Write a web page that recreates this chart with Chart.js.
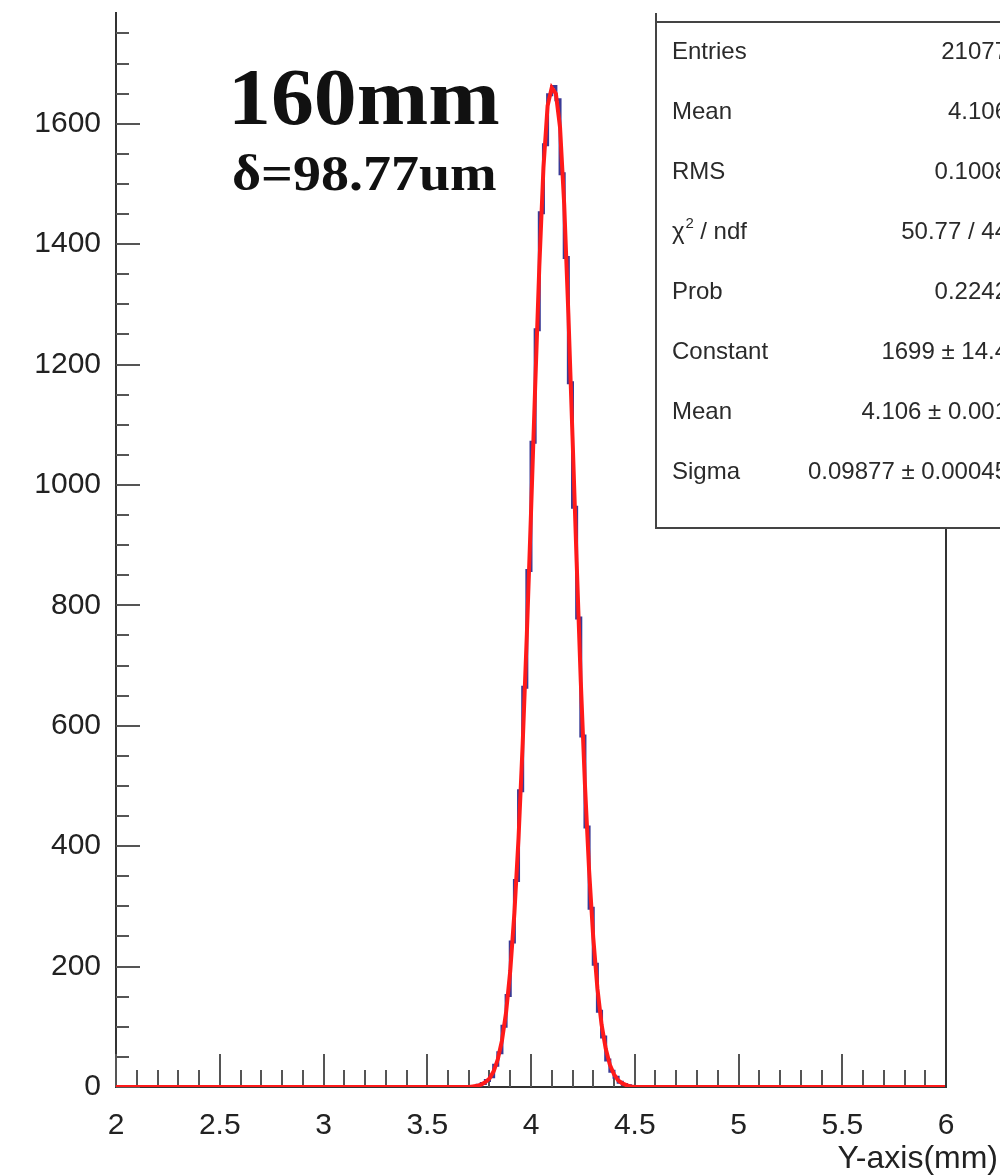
<!DOCTYPE html>
<html><head><meta charset="utf-8">
<script src="https://cdn.jsdelivr.net/npm/chart.js@4/dist/chart.umd.min.js"></script>
<style>html,body{margin:0;padding:0;background:#fff;}canvas{display:block;}</style>
</head><body>
<canvas id="c" width="1000" height="1175"></canvas>
<script>
// ---------- data ----------
const xRange = [2, 6];
const yRange = [0, 1784];
const xTickLabels = [2, 2.5, 3, 3.5, 4, 4.5, 5, 5.5, 6];
const yTickLabels = [0, 200, 400, 600, 800, 1000, 1200, 1400, 1600];
const binWidth = 0.02;
const binCenters = [3.75, 3.77, 3.79, 3.81, 3.83, 3.85, 3.87, 3.89, 3.91, 3.93, 3.95, 3.97, 3.99,
  4.01, 4.03, 4.05, 4.07, 4.09, 4.11, 4.13, 4.15, 4.17, 4.19, 4.21, 4.23, 4.25, 4.27, 4.29,
  4.31, 4.33, 4.35, 4.37, 4.39, 4.41, 4.43, 4.45, 4.47, 4.49];
const binCounts = [3, 6, 11, 17, 36, 57, 101, 152, 241, 343, 492, 664, 858,
  1071, 1258, 1452, 1565, 1648, 1662, 1640, 1517, 1378, 1170, 963, 779, 583, 432, 297,
  204, 126, 83, 45, 26, 16, 8, 4, 2, 1];
const fitX = [2.0, 3.70, 3.72, 3.74, 3.76, 3.78, 3.80, 3.82, 3.84, 3.86, 3.88, 3.90, 3.92, 3.94, 3.96,
  3.98, 4.00, 4.02, 4.04, 4.06, 4.08, 4.10, 4.12, 4.14, 4.16, 4.18, 4.20, 4.22, 4.24, 4.26,
  4.28, 4.30, 4.32, 4.34, 4.36, 4.38, 4.40, 4.42, 4.44, 4.46, 4.48, 4.50, 6.0];
const fitY = [0, 0, 1, 2, 4, 8, 14, 26, 46, 77, 124, 193, 289, 414, 571,
  752, 953, 1162, 1362, 1527, 1630, 1660, 1650, 1594, 1466, 1285, 1081, 872, 673, 502,
  360, 248, 164, 104, 64, 37, 21, 11, 6, 3, 1, 0, 0];
const statNames = ['Entries', 'Mean', 'RMS', 'χ2 / ndf', 'Prob', 'Constant', 'Mean', 'Sigma'];
const statValues = ['21077', '4.106', '0.1008', '50.77 / 44', '0.2242', '1699 ± 14.4', '4.106 ± 0.001', '0.09877 ± 0.00045'];
const titleMain = '160mm';
const titleSub = 'δ=98.77um';
const xAxisTitle = 'Y-axis(mm)';

// ---------- build datasets ----------
const histPts = [{x: xRange[0], y: 0}, {x: +(binCenters[0] - binWidth / 2).toFixed(3), y: 0}];
binCenters.forEach((c, i) => histPts.push({x: +(c - binWidth / 2).toFixed(3), y: binCounts[i]}));
histPts.push({x: +(binCenters[binCenters.length - 1] + binWidth / 2).toFixed(3), y: 0});
histPts.push({x: xRange[1], y: 0});
const fitPts = fitX.map((x, i) => ({x, y: fitY[i]}));

const SANS = '"Liberation Sans", Arial, Helvetica, sans-serif';
const SERIF = '"Liberation Serif", "DejaVu Serif", serif';
const AXC = '#333';

const decor = {
  id: 'decor',
  beforeDatasetsDraw(chart) {
    const ctx = chart.ctx, xs = chart.scales.x, ys = chart.scales.y, a = chart.chartArea;
    ctx.save();
    ctx.strokeStyle = '#555';
    ctx.lineWidth = 2;
    ctx.beginPath();
    for (let i = 0; i <= 40; i++) {
      const v = xRange[0] + i * 0.1;
      const px = Math.round(xs.getPixelForValue(v));
      const len = (i % 5 === 0) ? 33 : 17;
      ctx.moveTo(px, a.bottom); ctx.lineTo(px, a.bottom - len);
    }
    for (let i = 0; i * 50 <= yRange[1]; i++) {
      const py = Math.round(ys.getPixelForValue(i * 50));
      const len = (i % 4 === 0) ? 24 : 13;
      ctx.moveTo(a.left, py); ctx.lineTo(a.left + len, py);
    }
    ctx.stroke();
    ctx.restore();
  },
  afterDraw(chart) {
    const ctx = chart.ctx, a = chart.chartArea;
    ctx.save();
    // right frame line
    const boxBottom = 528;
    ctx.strokeStyle = AXC; ctx.lineWidth = 2;
    ctx.beginPath(); ctx.moveTo(a.right, boxBottom); ctx.lineTo(a.right, a.bottom); ctx.stroke();
    // stats box
    const bx = 656, by = 13, bw = 400, bh = boxBottom - by;
    ctx.fillStyle = '#fff';
    ctx.fillRect(bx, by, bw, bh);
    ctx.strokeStyle = '#444'; ctx.lineWidth = 2;
    ctx.beginPath();
    ctx.moveTo(bx, by); ctx.lineTo(bx, boxBottom); ctx.lineTo(bx + bw, boxBottom);
    ctx.moveTo(bx, 22); ctx.lineTo(bx + bw, 22);
    ctx.stroke();
    ctx.fillStyle = '#2a2a2a';
    ctx.font = '24px ' + SANS;
    ctx.textBaseline = 'middle';
    for (let i = 0; i < statNames.length; i++) {
      const y = 52 + i * 60;
      ctx.textAlign = 'left';
      if (statNames[i].startsWith('χ2')) {
        ctx.font = '24px ' + SANS;
        ctx.fillText('χ', 672, y);
        const w = ctx.measureText('χ').width;
        ctx.font = '15px ' + SANS;
        ctx.fillText('2', 672 + w + 1, y - 8);
        ctx.font = '24px ' + SANS;
        ctx.fillText(' / ndf', 672 + w + 9, y);
      } else {
        ctx.fillText(statNames[i], 672, y);
      }
      ctx.textAlign = 'right';
      ctx.fillText(statValues[i], 1008, y);
    }
    // big labels (slightly widened serif to mimic the original face)
    ctx.fillStyle = '#111';
    ctx.textAlign = 'left';
    ctx.textBaseline = 'alphabetic';
    ctx.save();
    ctx.translate(228, 124); ctx.scale(1.06, 1);
    ctx.font = 'bold 81px ' + SERIF;
    ctx.fillText(titleMain, 0, 0);
    ctx.restore();
    ctx.save();
    ctx.translate(232, 190); ctx.scale(1.12, 1);
    ctx.font = 'bold 50px ' + SERIF;
    ctx.fillText(titleSub, 0, 0);
    ctx.restore();
    // x axis title
    ctx.fillStyle = '#222';
    ctx.font = '32px ' + SANS;
    ctx.textAlign = 'right';
    ctx.fillText(xAxisTitle, 998, 1168);
    ctx.restore();
  }
};

new Chart(document.getElementById('c'), {
  type: 'line',
  data: {
    datasets: [
      {data: fitPts, borderColor: '#ff1a1a', borderWidth: 4, pointRadius: 0, tension: 0, fill: false, order: 1},
      {data: histPts, borderColor: '#3a3a95', borderWidth: 3, pointRadius: 0, stepped: 'before', fill: false, order: 2}
    ]
  },
  options: {
    responsive: false,
    animation: false,
    devicePixelRatio: 1,
    layout: {padding: {top: 13, right: 54, left: 0, bottom: 0}},
    plugins: {legend: {display: false}, tooltip: {enabled: false}},
    scales: {
      x: {
        type: 'linear', min: xRange[0], max: xRange[1],
        grid: {display: false, drawTicks: false},
        border: {display: true, color: AXC, width: 2},
        afterBuildTicks: s => { s.ticks = xTickLabels.map(v => ({value: v})); },
        afterFit: s => { s.height = 88; s.paddingLeft = 0; s.paddingRight = 0; },
        ticks: {color: '#222', font: {family: SANS, size: 30}, padding: 21, maxRotation: 0, autoSkip: false,
          callback: v => String(v)}
      },
      y: {
        type: 'linear', min: yRange[0], max: yRange[1],
        grid: {display: false, drawTicks: false},
        border: {display: true, color: AXC, width: 2},
        afterBuildTicks: s => { s.ticks = yTickLabels.map(v => ({value: v})); },
        afterFit: s => { s.width = 116; s.paddingTop = 0; s.paddingBottom = 0; },
        ticks: {color: '#222', font: {family: SANS, size: 30}, padding: 15, autoSkip: false,
          callback: v => String(v)}
      }
    }
  },
  plugins: [decor]
});
</script>
</body></html>
